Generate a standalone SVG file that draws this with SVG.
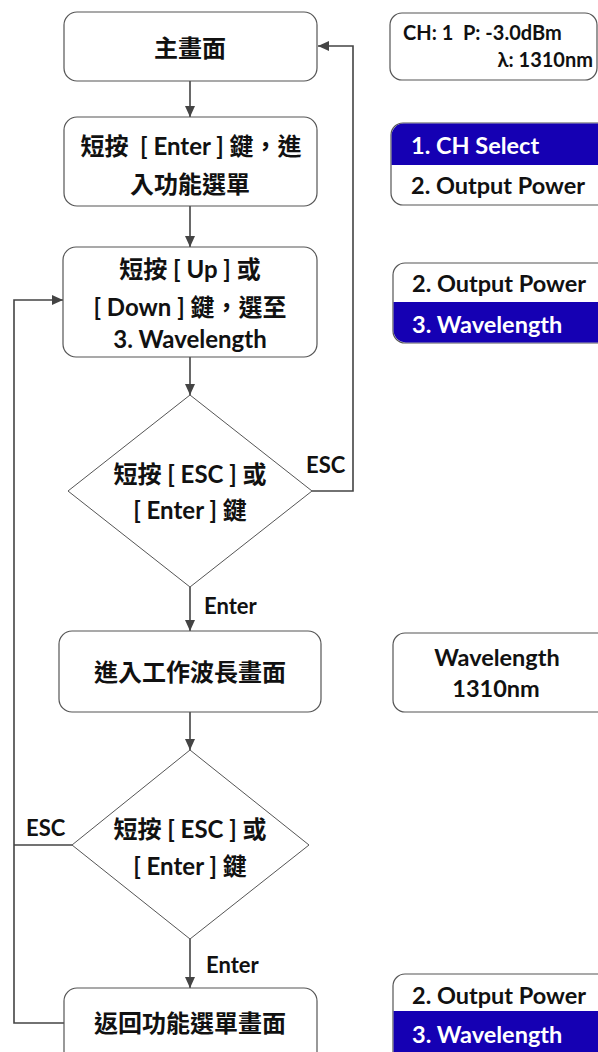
<svg xmlns="http://www.w3.org/2000/svg" width="598" height="1052" viewBox="0 0 598 1052" xml:lang="zh-TW">
<style>
  .box { fill: #ffffff; stroke: #555555; stroke-width: 1.2; }
  .dia { fill: #ffffff; stroke: #555555; stroke-width: 1; }
  .t { font-family: "Lato", "Noto Sans CJK TC", sans-serif; font-weight: bold; fill: #111111; dominant-baseline: central; }
  .m { font-size: 24px; text-anchor: middle; }
  .lbl { font-size: 22px; }
  .p { font-size: 23.5px; }
  .s { font-size: 20px; }
  .w { fill: #ffffff; }
  .c { fill: none; stroke: #444444; stroke-width: 1.6; }
  .band { fill: #1500b3; }
</style>
<defs>
  <marker id="ah" markerWidth="12" markerHeight="10" refX="11" refY="5" orient="auto" markerUnits="userSpaceOnUse">
    <path d="M0,0 L11,5 L0,10 z" fill="#444444"/>
  </marker>
</defs>

<g id="connectors">
  <line class="c" x1="190" y1="81" x2="190" y2="117" marker-end="url(#ah)"/>
  <line class="c" x1="190" y1="206" x2="190" y2="247" marker-end="url(#ah)"/>
  <line class="c" x1="190" y1="357" x2="190" y2="395" marker-end="url(#ah)"/>
  <line class="c" x1="190" y1="587" x2="190" y2="631" marker-end="url(#ah)"/>
  <line class="c" x1="190" y1="712" x2="190" y2="750" marker-end="url(#ah)"/>
  <line class="c" x1="190" y1="939" x2="190" y2="988" marker-end="url(#ah)"/>
  <polyline class="c" points="312,491 353,491 353,46 318,46" marker-end="url(#ah)"/>
  <polyline class="c" points="64,1023 14,1023 14,300 63,300" marker-end="url(#ah)"/>
  <polyline class="c" points="72,845 14,845"/>
  <text class="t lbl" x="306" y="464">ESC</text>
  <text class="t lbl" x="204" y="605">Enter</text>
  <text class="t lbl" x="26" y="827">ESC</text>
  <text class="t lbl" x="206" y="964">Enter</text>
</g>

<g id="n1">
  <rect class="box" x="64" y="12" width="253" height="69" rx="13"/>
  <text class="t m" x="190" y="47">主畫面</text>
</g>
<g id="n2">
  <rect class="box" x="64" y="117" width="253" height="89" rx="13"/>
  <text class="t m" x="191" y="145">短按&#160;&#160;[ Enter ] 鍵，進</text>
  <text class="t m" x="190" y="183">入功能選單</text>
</g>
<g id="n3">
  <rect class="box" x="63" y="247" width="254" height="110" rx="13"/>
  <text class="t m" x="190" y="268">短按 [ Up ] 或</text>
  <text class="t m" x="190" y="306">[ Down ] 鍵，選至</text>
  <text class="t m" x="190" y="338">3. Wavelength</text>
</g>
<g id="n4">
  <polygon class="dia" points="190,395 312,491 190,587 68,491"/>
  <text class="t m" x="190" y="473">短按 [ ESC ] 或</text>
  <text class="t m" x="190" y="509">[ Enter ] 鍵</text>
</g>
<g id="n5">
  <rect class="box" x="59" y="631" width="262" height="81" rx="13"/>
  <text class="t m" x="190" y="671">進入工作波長畫面</text>
</g>
<g id="n6">
  <polygon class="dia" points="190,750 309,845 190,939 72,845"/>
  <text class="t m" x="190" y="828">短按 [ ESC ] 或</text>
  <text class="t m" x="190" y="865">[ Enter ] 鍵</text>
</g>
<g id="n7">
  <rect class="box" x="64" y="988" width="253" height="80" rx="13"/>
  <text class="t m" x="190" y="1022">返回功能選單畫面</text>
</g>

<g id="s1">
  <rect class="box" x="390" y="13" width="207" height="67" rx="12"/>
  <text class="t s" x="403" y="32">CH: 1&#160;&#160;P: -3.0dBm</text>
  <text class="t s" x="593" y="59" style="text-anchor:end">λ: 1310nm</text>
</g>
<g id="s2">
  <rect class="box" x="391" y="123" width="230" height="82" rx="12"/>
  <path class="band" d="M391.6,165 V135 A12,12 0 0 1 403.6,123.6 H620 V165 Z"/>
  <text class="t p w" x="411" y="145">1. CH Select</text>
  <text class="t p" x="411" y="185">2. Output Power</text>
</g>
<g id="s3">
  <rect class="box" x="393" y="263" width="230" height="80" rx="12"/>
  <path class="band" d="M393.6,302 V331 A12,12 0 0 0 405.6,342.4 H620 V302 Z"/>
  <text class="t p" x="412" y="283">2. Output Power</text>
  <text class="t p w" x="412" y="324">3. Wavelength</text>
</g>
<g id="s4">
  <rect class="box" x="393" y="633" width="230" height="79" rx="12"/>
  <text class="t p" x="497" y="657" style="text-anchor:middle">Wavelength</text>
  <text class="t p" x="496" y="688" style="text-anchor:middle">1310nm</text>
</g>
<g id="s5">
  <rect class="box" x="393" y="974" width="230" height="100" rx="12"/>
  <rect class="band" x="393.6" y="1011" width="230" height="60"/>
  <text class="t p" x="412" y="995">2. Output Power</text>
  <text class="t p w" x="412" y="1034">3. Wavelength</text>
</g>
</svg>
